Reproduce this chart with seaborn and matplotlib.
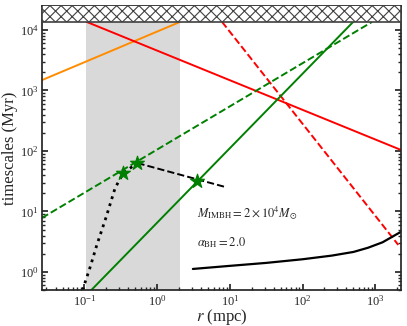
import matplotlib
matplotlib.use("Agg")
import matplotlib.pyplot as plt
import numpy as np
import seaborn as sns

# limites des axes
r_lim = [0.026, 2250]
t_lim = [0.5, 2.5e4]
t_forbidden = 13700          # zone hachurée (au-dessus)
r_span = [0.105, 2.05]       # bande grise

# droites (points extrêmes, r en mpc, t en Myr)
orange_r = [0.026, 2.07]
orange_t = [1480, 13600]
red_r = [0.107, 2250]
red_t = [13600, 104]
red_dash_r = [7.8, 2070]
red_dash_t = [13600, 2.8]
green_dash_r = [0.026, 905]
green_dash_t = [7.8, 13600]
green_r = [0.124, 497]
green_t = [0.5, 13600]

# courbe noire (pointillés puis tirets)
dot_r = [0.094, 0.120, 0.148, 0.199, 0.264, 0.344, 0.536]
dot_t = [0.5, 1.21, 2.79, 8.1, 24.4, 43.7, 63.0]
dash_r = [0.536, 8.6]
dash_t = [63.0, 25.4]

# courbe noire pleine
solid_r = [3.1, 10.0, 31.6, 100.0, 251.0, 501.0, 794.0, 1259.0, 2250.0]
solid_t = [1.12, 1.26, 1.41, 1.62, 1.86, 2.14, 2.51, 3.09, 4.6]

# étoiles
star_r = [0.344, 0.536, 3.52]
star_t = [43.7, 63.0, 32.3]

sns.set_theme(style="ticks")
plt.rcParams["font.family"] = ["Liberation Serif", "DejaVu Serif"]
plt.rcParams["mathtext.fontset"] = "stix"
plt.rcParams["font.size"] = 9
plt.rcParams["hatch.linewidth"] = 0.8

fig = plt.figure(figsize=(4.07, 3.26), dpi=100)
ax = fig.add_axes([0.103, 0.110, 0.882, 0.872])
ax.set_xscale("log")
ax.set_yscale("log")

ax.axvspan(r_span[0], r_span[1], color="0.85", lw=0, zorder=0)
ax.axhspan(t_forbidden, 1e6, facecolor="white", edgecolor="0.25",
           hatch="xxx", lw=1.2, zorder=5)

lw = 1.4
sns.lineplot(x=orange_r, y=orange_t, ax=ax, color="darkorange", lw=lw)
sns.lineplot(x=red_r, y=red_t, ax=ax, color="red", lw=lw)
sns.lineplot(x=red_dash_r, y=red_dash_t, ax=ax, color="red", lw=lw, linestyle="--")
sns.lineplot(x=green_dash_r, y=green_dash_t, ax=ax, color="green", lw=lw, linestyle="--")
sns.lineplot(x=green_r, y=green_t, ax=ax, color="green", lw=lw)
ax.plot(dot_r, dot_t, color="black", lw=2, linestyle=":")
sns.lineplot(x=dash_r, y=dash_t, ax=ax, color="black", lw=lw, linestyle="--")
sns.lineplot(x=solid_r, y=solid_t, ax=ax, color="black", lw=1.6)
sns.scatterplot(x=star_r, y=star_t, ax=ax, marker="*", color="green",
                s=110, edgecolor="green", zorder=4)

ax.text(0.433, 0.27, r"$M_{\rm IMBH} = 2\times10^4 M_{\odot}$",
        transform=ax.transAxes, va="center", fontsize=9)
ax.text(0.433, 0.168, r"$\alpha_{\rm BH} = 2.0$",
        transform=ax.transAxes, va="center", fontsize=9)

ax.set_xlim(r_lim)
ax.set_ylim(t_lim)
ax.set_xlabel(r"$r$ (mpc)", labelpad=-1)
ax.set_ylabel("timescales (Myr)", labelpad=1)
ax.tick_params(which="both", direction="in", top=True, right=True, labelsize=9)
ax.tick_params(which="major", length=4, pad=2.5)
ax.tick_params(which="minor", length=2)

fig.savefig("out.png", dpi=100)
plt.close(fig)
